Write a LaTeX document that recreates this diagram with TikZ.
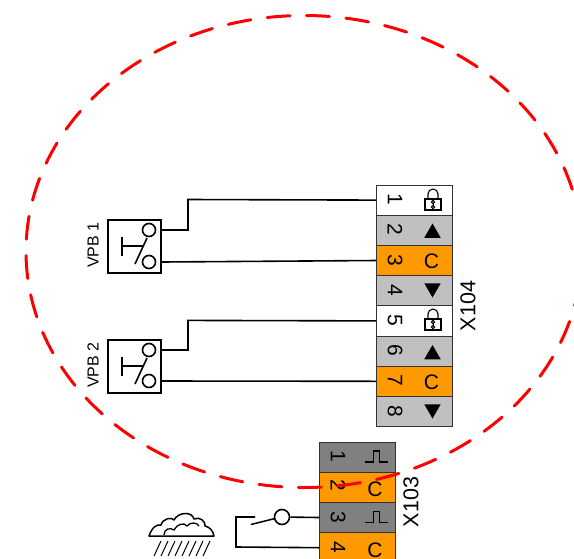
\documentclass[tikz,border=0pt]{standalone}
\usepackage{fontspec}
\setmainfont{Liberation Sans}
\usetikzlibrary{shapes.geometric}
\definecolor{cellorange}{HTML}{FF9900}
\definecolor{cellgrey}{HTML}{C0C0C0}
\definecolor{celldark}{HTML}{808080}
\definecolor{dashred}{HTML}{FF0000}
\begin{document}
\begin{tikzpicture}[
        x = 1pt, y = -1pt,
        cell/.style = {draw = black!80, line width = 1pt, inner sep = 0mm, minimum width = 76pt, minimum height = 30.2pt, anchor = north west},
        num/.style = {rotate = -90, inner sep = 0mm, font = \fontsize{21}{21}\selectfont},
        sym/.style = {inner sep = 0mm, font = \fontsize{21}{21}\selectfont},
        tag/.style = {rotate = 90, inner sep = 0mm, font = \fontsize{21.5}{21.5}\selectfont},
        vpb/.style = {rotate = 90, inner sep = 0mm, font = \fontsize{16}{16}\selectfont},
        sw/.style = {draw, line width = 1.6pt, inner sep = 0mm, minimum size = 53pt, anchor = north west},
        pin/.style = {draw, fill = white, line width = 1.6pt, circle, inner sep = 0mm, minimum size = 13pt},
        up/.style = {fill, regular polygon, regular polygon sides = 3, inner sep = 0mm, minimum size = 19pt},
        down/.style = {up, shape border rotate = 180},
        arr/.style = {draw, line width = 1.6pt},
        lockicon/.pic = {
            \draw[line width = 1.1pt, fill = white] (-8,-1) rectangle (8,10);
            \draw[line width = 1.1pt] (-5,-1) -- (-5,-6) arc[start angle = 180, end angle = 360, radius = 5] -- (5,-1);
            \draw[line width = 1pt] (0,2) circle (1.6);
            \draw[line width = 1pt] (0,7) circle (1.6);
            \draw[line width = 1pt] (0,3) -- (0,6);
        },
        pulse/.pic = {
            \draw[line width = 1.6pt] (-11.5,5.5) -- (-3,5.5) -- (-3,-5.5) -- (3,-5.5) -- (3,5.5) -- (11.5,5.5);
        },
        bump/.style = {line width = 1.5pt, fill = white, line join = round},
    ]
    \clip (0,0) rectangle (574,558);
    \useasboundingbox (0,0) rectangle (574,558);

    % X104
    \node (a1) [cell, fill = white] at (376,184.5){};
    \node (a2) [cell, fill = cellgrey] at (376,214.7){};
    \node (a3) [cell, fill = cellorange] at (376,244.9){};
    \node (a4) [cell, fill = cellgrey] at (376,275.1){};
    \node (a5) [cell, fill = white] at (376,305.3){};
    \node (a6) [cell, fill = cellgrey] at (376,335.5){};
    \node (a7) [cell, fill = cellorange] at (376,365.7){};
    \node (a8) [cell, fill = cellgrey] at (376,395.9){};

    \node [num] at (395,199.5){1};
    \node [num] at (395,229.8){2};
    \node [num] at (395,260){3};
    \node [num] at (395,290.2){4};
    \node [num] at (395,320.4){5};
    \node [num] at (395,350.6){6};
    \node [num] at (395,380.8){7};
    \node [num] at (395,411){8};

    \pic at (433,200) {lockicon};
    \node [up] at (432.5,233){};
    \node [sym] at (431.5,261){C};
    \node [down] at (432.5,288){};
    \pic at (433,320) {lockicon};
    \node [up] at (432.5,354.5){};
    \node [sym] at (431.5,382){C};
    \node [down] at (432.5,409){};

    \node (x104) [tag] at (468,306){X104};

    % X103
    \node (b1) [cell, fill = celldark] at (319,441.5){};
    \node (b2) [cell, fill = cellorange] at (319,471.7){};
    \node (b3) [cell, fill = celldark] at (319,501.9){};
    \node (b4) [cell, fill = cellorange] at (319,532.1){};

    \node [num] at (338,456){1};
    \node [num] at (338,485.5){2};
    \node [num] at (338,517){3};
    \node [num] at (338,547){4};

    \pic at (376.5,456.5) {pulse};
    \node [sym] at (375,489){C};
    \pic at (376.5,517) {pulse};
    \node [sym] at (375,550){C};

    \node (x103) [tag] at (411,502){X103};

    % VPB 1
    \node (s1) [sw] at (107,219){};
    \node (p1) [pin] at (149,230){};
    \node (q1) [pin] at (149,262){};
    \node [vpb] at (93,245){VPB 1};
    \draw[line width = 1.6pt] (135,264) -- (147,238);
    \draw[line width = 1.6pt] (122,237) -- (122,256);
    \draw[line width = 1.6pt] (122,246) -- (143,246);

    % VPB 2
    \node (s2) [sw] at (107,339){};
    \node (p2) [pin] at (149,350){};
    \node (q2) [pin] at (149,381){};
    \node [vpb] at (93,365){VPB 2};
    \draw[line width = 1.6pt] (135,384) -- (147,358);
    \draw[line width = 1.6pt] (122,357) -- (122,376);
    \draw[line width = 1.6pt] (122,366) -- (143,366);

    \path[arr] (s1.east |- p1) -- (188,230) -- (188,199.5) -- (a1.west);
    \path[arr] (s1.east |- q1) -- (a3.west);
    \path[arr] (s2.east |- p2) -- (188,350) -- (188,320.4) -- (a5.west);
    \path[arr] (s2.east |- q2) -- (a7.west);

    % rain contact
    \node (r) [pin, minimum size = 15pt] at (282,517){};
    \path[arr] (b3.west) -- (r);
    \path[arr] (255,517) -- (236,517) -- (236,547) -- (b4.west);
    \draw[line width = 1.5pt] (251,524.5) -- (275,518.5);

    % cloud
    \draw[bump] (149,536) .. controls (152,527) and (157,524) .. (161,525) .. controls (163,518) and (172,517) .. (174,520) .. controls (178,512) and (192,511) .. (194,519) .. controls (200,516) and (206,522) .. (205,526) .. controls (210,527) and (213,531) .. (214,536) -- cycle;
    \draw[line width = 1.3pt] (164,535) .. controls (164,529) and (170,527) .. (174,530) .. controls (177,524) and (184,522) .. (187,526) .. controls (190,522) and (197,522) .. (199,526);
    \foreach \i in {0,...,7}
        \draw[line width = 1pt] (161+7*\i,541) -- (154+7*\i,556);

    % area
    \draw[dashred, line width = 3pt, dash pattern = on 23pt off 16.46pt, dash phase = 7.5pt, line cap = round] (304,251.5) ellipse [x radius = 278, y radius = 236];
\end{tikzpicture}
\end{document}
